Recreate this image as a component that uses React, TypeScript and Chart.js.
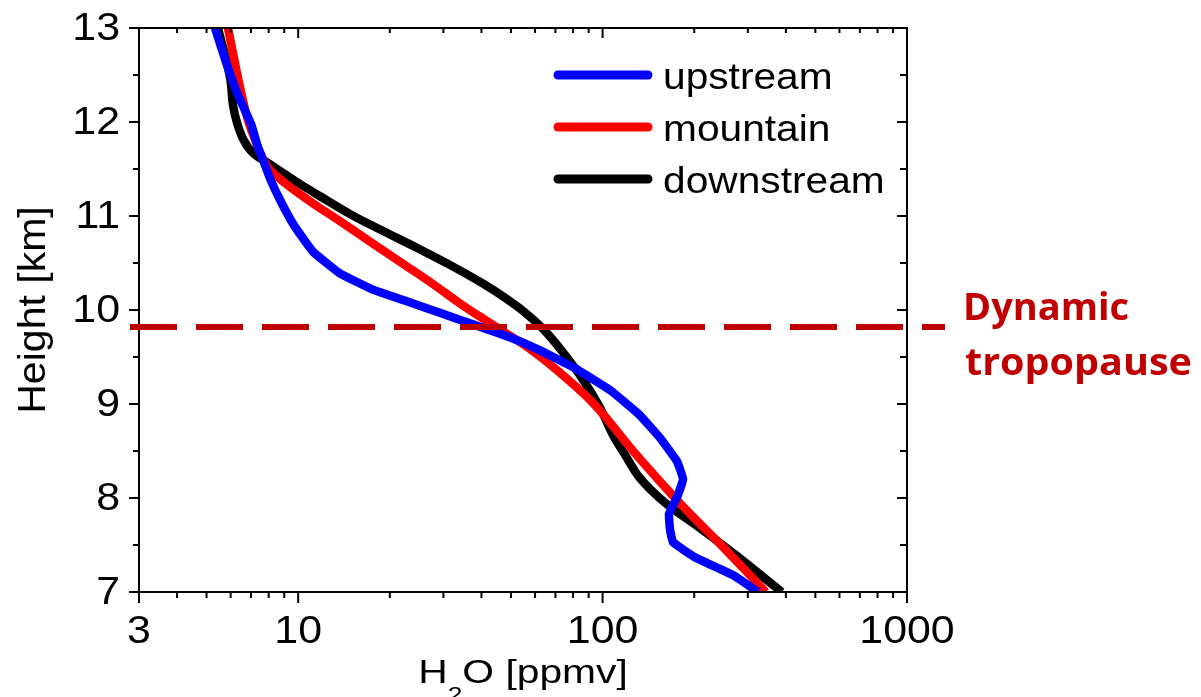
import React, { useEffect, useRef } from "react";
import { Chart, registerables } from "chart.js";

Chart.register(...registerables);

// Water vapour profiles: height levels (km) and H2O mixing ratio (ppmv)
const upstreamHeight = [13.0, 12.64, 12.29, 11.98, 11.73, 11.57, 11.4, 11.17, 10.9, 10.62, 10.39, 10.22, 10.1, 9.97, 9.84, 9.71, 9.57, 9.38, 9.14, 8.89, 8.64, 8.39, 8.2, 8.01, 7.83, 7.66, 7.53, 7.37, 7.18, 7.0];
const upstreamH2O = [5.33, 5.79, 6.34, 7.0, 7.38, 7.72, 8.08, 8.72, 9.69, 11.19, 13.7, 17.5, 22.4, 29.2, 38.1, 49.6, 62.3, 81.2, 106.6, 131.7, 154.4, 175.6, 183.7, 175.6, 165.3, 166.6, 170.4, 201, 268, 324];

const mountainHeight = [13.0, 12.73, 12.37, 12.02, 11.81, 11.63, 11.49, 11.31, 11.12, 10.96, 10.74, 10.5, 10.27, 10.07, 9.86, 9.6, 9.35, 9.0, 8.5, 8.13, 7.83, 7.5, 7.0];
const mountainH2O = [5.88, 6.11, 6.44, 6.84, 7.22, 7.61, 8.08, 9.4, 11.36, 13.5, 17.0, 21.9, 27.9, 34.0, 42.7, 56.9, 71.4, 93.7, 126, 159, 194, 245, 344];

const downstreamHeight = [13.0, 12.48, 12.18, 11.99, 11.8, 11.67, 11.55, 11.34, 11.21, 11.02, 10.84, 10.66, 10.48, 10.28, 10.13, 9.99, 9.8, 9.55, 9.26, 8.96, 8.67, 8.46, 8.21, 7.95, 7.68, 7.4, 7.0];
const downstreamH2O = [5.45, 5.97, 6.11, 6.3, 6.64, 7.11, 8.08, 10.14, 11.8, 14.8, 19.0, 24.6, 31.5, 40.5, 47.8, 54.8, 63.7, 74.1, 86.2, 98.1, 108.2, 118.5, 132.8, 160.4, 209, 272, 388];

const seriesLabels = ["upstream", "mountain", "downstream"];
const seriesColors = ["#0000FF", "#FF0000", "#000000"];
const seriesTension = [0.1, 0.35, 0.35];

// Axis ranges and ticks
const xMin = 3;
const xMax = 1000;
const yMin = 7;
const yMax = 13;
const xLabeledTicks = [3, 10, 100, 1000];
const xMinorTicks = [4, 5, 6, 7, 8, 9, 20, 30, 40, 50, 60, 70, 80, 90, 200, 300, 400, 500, 600, 700, 800, 900];
const yLabeledTicks = [7, 8, 9, 10, 11, 12, 13];
const yMinorTicks = [7.5, 8.5, 9.5, 10.5, 11.5, 12.5];

// Tropopause marker
const tropopauseHeight = 9.82;
const tropopauseText = ["Dynamic", "tropopause"];
const tropopauseColor = "#C00000";

// Axis titles
const yTitle = "Height [km]";
const xTitleBase = "H";
const xTitleSub = "2";
const xTitleRest = "O [ppmv]";

const SANS = '"Liberation Sans", Arial, sans-serif';
const STRETCH = 1.1;

const toPoints = (heights: number[], values: number[]) =>
  heights.map((h, i) => ({ x: values[i], y: h }));

function drawStretched(
  ctx: CanvasRenderingContext2D,
  text: string,
  x: number,
  y: number,
  align: CanvasTextAlign,
  sx: number
) {
  ctx.save();
  ctx.translate(x, y);
  ctx.scale(sx, 1);
  ctx.textAlign = align;
  ctx.textBaseline = "alphabetic";
  ctx.fillText(text, 0, 0);
  ctx.restore();
}

const profilePlugin = {
  id: "profileDecorations",
  afterDatasetsDraw(chart: any) {
    const ctx: CanvasRenderingContext2D = chart.ctx;
    const { left, right, top, bottom } = chart.chartArea;
    const xs = chart.scales.x;
    const ys = chart.scales.y;

    ctx.save();
    // Frame
    ctx.strokeStyle = "#000";
    ctx.lineWidth = 2;
    ctx.setLineDash([]);
    ctx.strokeRect(left, top, right - left, bottom - top);

    const tick = (x1: number, y1: number, x2: number, y2: number) => {
      ctx.beginPath();
      ctx.moveTo(x1, y1);
      ctx.lineTo(x2, y2);
      ctx.stroke();
    };
    for (const v of xLabeledTicks) {
      const px = xs.getPixelForValue(v);
      tick(px, bottom, px, bottom + 11);
      tick(px, top, px, top + 10);
    }
    for (const v of xMinorTicks) {
      const px = xs.getPixelForValue(v);
      tick(px, bottom, px, bottom + 6);
      tick(px, top, px, top + 5);
    }
    for (const v of yLabeledTicks) {
      const py = ys.getPixelForValue(v);
      tick(left, py, left - 10, py);
      tick(right, py, right - 10, py);
    }
    for (const v of yMinorTicks) {
      const py = ys.getPixelForValue(v);
      tick(left, py, left - 6, py);
      tick(right, py, right - 7, py);
    }

    // Dashed tropopause line, extending past the frame
    const ty = ys.getPixelForValue(tropopauseHeight);
    ctx.strokeStyle = tropopauseColor;
    ctx.lineWidth = 6;
    ctx.setLineDash([47, 19]);
    ctx.beginPath();
    ctx.moveTo(left - 9, ty);
    ctx.lineTo(right + 38, ty);
    ctx.stroke();
    ctx.setLineDash([]);

    // Tropopause annotation
    ctx.fillStyle = tropopauseColor;
    ctx.font = 'bold 38px "Open Sans", sans-serif';
    ctx.textAlign = "left";
    ctx.textBaseline = "alphabetic";
    ctx.fillText(tropopauseText[0], right + 56, ty - 7);
    drawStretched(ctx, tropopauseText[1], right + 58, ty + 48, "left", 1.04);

    // Tick labels
    ctx.fillStyle = "#000";
    ctx.font = `39px ${SANS}`;
    for (const v of xLabeledTicks) {
      drawStretched(ctx, String(v), xs.getPixelForValue(v), bottom + 51, "center", STRETCH);
    }
    for (const v of yLabeledTicks) {
      drawStretched(ctx, String(v), left - 19, ys.getPixelForValue(v) + 11.5, "right", STRETCH);
    }

    // Y axis title
    ctx.font = `38px ${SANS}`;
    ctx.save();
    ctx.translate(45, (top + bottom) / 2);
    ctx.rotate(-Math.PI / 2);
    ctx.scale(1.08, 1);
    ctx.textAlign = "center";
    ctx.fillText(yTitle, 0, 0);
    ctx.restore();

    // X axis title with subscript
    const titleSx = 1.2;
    const mainFont = `34px ${SANS}`;
    const subFont = `22px ${SANS}`;
    ctx.font = mainFont;
    const wBase = ctx.measureText(xTitleBase).width * titleSx;
    const wRest = ctx.measureText(xTitleRest).width * titleSx;
    ctx.font = subFont;
    const wSub = ctx.measureText(xTitleSub).width * titleSx;
    const total = wBase + wSub + wRest;
    let tx = (left + right) / 2 - total / 2;
    const baseY = 683;
    ctx.font = mainFont;
    drawStretched(ctx, xTitleBase, tx, baseY, "left", titleSx);
    tx += wBase;
    ctx.font = subFont;
    drawStretched(ctx, xTitleSub, tx, baseY + 19, "left", titleSx);
    tx += wSub;
    ctx.font = mainFont;
    drawStretched(ctx, xTitleRest, tx, baseY, "left", titleSx);

    // Legend
    ctx.lineWidth = 9;
    ctx.lineCap = "round";
    ctx.font = `37px ${SANS}`;
    seriesLabels.forEach((label, i) => {
      const ly = top + 47 + i * 52;
      ctx.strokeStyle = seriesColors[i];
      ctx.beginPath();
      ctx.moveTo(left + 419, ly);
      ctx.lineTo(left + 509, ly);
      ctx.stroke();
      ctx.fillStyle = "#000";
      drawStretched(ctx, label, left + 524, ly + 14, "left", STRETCH);
    });

    ctx.restore();
  },
};

export default function App() {
  const canvasRef = useRef<HTMLCanvasElement>(null);

  useEffect(() => {
    const canvas = canvasRef.current;
    if (!canvas) return;

    const series = [
      toPoints(upstreamHeight, upstreamH2O),
      toPoints(mountainHeight, mountainH2O),
      toPoints(downstreamHeight, downstreamH2O),
    ];

    const chart = new Chart(canvas, {
      type: "scatter",
      data: {
        datasets: series.map((data, i) => ({
          label: seriesLabels[i],
          data,
          showLine: true,
          borderColor: seriesColors[i],
          backgroundColor: seriesColors[i],
          borderWidth: 8.5,
          borderJoinStyle: "round" as const,
          pointRadius: 0,
          pointHoverRadius: 0,
          tension: seriesTension[i],
          fill: false,
          clip: 0,
        })),
      },
      options: {
        animation: false,
        responsive: false,
        devicePixelRatio: 1,
        events: [],
        layout: { padding: { left: 139, right: 294, top: 28, bottom: 105 } },
        plugins: {
          legend: { display: false },
          tooltip: { enabled: false },
        },
        scales: {
          x: { type: "logarithmic", min: xMin, max: xMax, display: false },
          y: { type: "linear", min: yMin, max: yMax, display: false },
        },
      },
      plugins: [profilePlugin],
    });

    return () => chart.destroy();
  }, []);

  return (
    <div style={{ position: "fixed", left: 0, top: 0, width: 1201, height: 697, background: "#fff" }}>
      <canvas ref={canvasRef} width={1201} height={697} style={{ width: 1201, height: 697, display: "block" }} />
    </div>
  );
}
